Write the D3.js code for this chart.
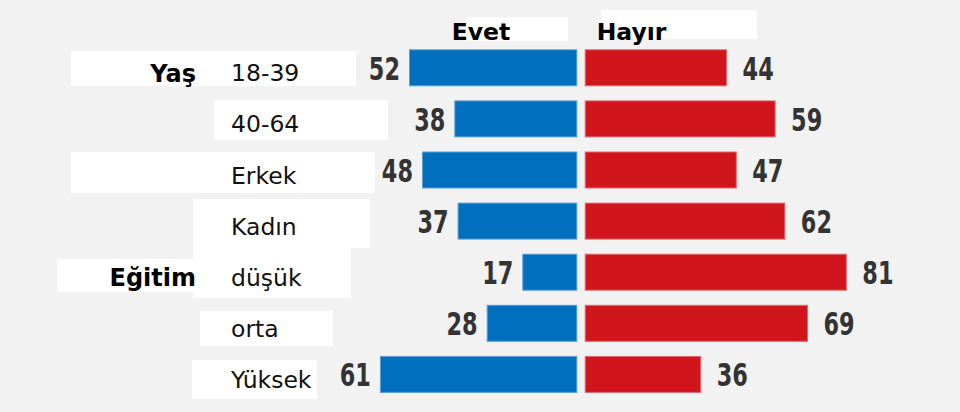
<!DOCTYPE html>
<html>
<head>
<meta charset="utf-8">
<script src="https://cdn.jsdelivr.net/npm/d3@7"></script>
<style>
  html, body { margin: 0; padding: 0; background: #f2f2f2; }
  svg { display: block; }
</style>
</head>
<body>
<svg id="chart" width="960" height="412"></svg>
<script>
// ---- data ----
const categories = ["18-39", "40-64", "Erkek", "Kadın", "düşük", "orta", "Yüksek"];
const evet  = [52, 38, 48, 37, 17, 28, 61];
const hayir = [44, 59, 47, 62, 81, 69, 36];
const groupLabels = [ {label: "Yaş", at: "18-39"}, {label: "Eğitim", at: "düşük"} ];
const seriesNames = ["Evet", "Hayır"];

// decorative white label backgrounds seen in the reference [x, y, w, h]
const maskBoxes = [
  [71, 51, 285, 35], [214, 100, 174, 40], [71, 152, 304, 41],
  [193, 199, 177, 49], [57, 259, 136, 33], [193, 248, 158, 50],
  [200, 311, 133, 35], [192, 360, 125, 39],
  [466, 17, 102, 24], [601, 10, 156, 29]
];

const svg = d3.select("#chart");
const W = 960, H = 412;

svg.append("rect").attr("width", W).attr("height", H).attr("fill", "#f2f2f2");

const y = d3.scaleBand()
  .domain(categories)
  .range([49.3, 392.9])
  .paddingInner(0.276)
  .paddingOuter(0);

const xL = d3.scaleLinear().domain([0, 100]).range([577.3, 577.3 - 323.6]);
const xR = d3.scaleLinear().domain([0, 100]).range([584.7, 584.7 + 323.6]);

// masks
svg.append("g").selectAll("rect").data(maskBoxes).join("rect")
  .attr("x", d => d[0]).attr("y", d => d[1])
  .attr("width", d => d[2]).attr("height", d => d[3])
  .attr("fill", "#ffffff");

const rows = categories.map((c, i) => ({cat: c, e: evet[i], h: hayir[i]}));

// blue bars
svg.append("g").selectAll("rect").data(rows).join("rect")
  .attr("x", d => xL(d.e) + 0.5)
  .attr("y", d => y(d.cat) + 0.5)
  .attr("width", d => xL(0) - xL(d.e) - 1)
  .attr("height", y.bandwidth() - 1)
  .attr("fill", "#006fbe")
  .attr("stroke", "#5a9fd6")
  .attr("stroke-width", 1);

// red bars
svg.append("g").selectAll("rect").data(rows).join("rect")
  .attr("x", xR(0) + 0.5)
  .attr("y", d => y(d.cat) + 0.5)
  .attr("width", d => xR(d.h) - xR(0) - 1)
  .attr("height", y.bandwidth() - 1)
  .attr("fill", "#d0151d")
  .attr("stroke", "#e06a6f")
  .attr("stroke-width", 1);

const numFont = "'DejaVu Sans', sans-serif";
const squeeze = 0.7;

// value labels (condensed via horizontal scale)
svg.append("g").selectAll("text").data(rows).join("text")
  .attr("transform", d => `translate(${xL(d.e) - 9},${y(d.cat) + y.bandwidth() / 2 + 11.8}) scale(${squeeze},1)`)
  .attr("text-anchor", "end")
  .attr("font-family", numFont)
  .attr("font-weight", "bold")
  .attr("font-size", 32)
  .attr("fill", "#333333")
  .text(d => d.e);

svg.append("g").selectAll("text").data(rows).join("text")
  .attr("transform", d => `translate(${xR(d.h) + 15.5},${y(d.cat) + y.bandwidth() / 2 + 11.8}) scale(${squeeze},1)`)
  .attr("text-anchor", "start")
  .attr("font-family", numFont)
  .attr("font-weight", "bold")
  .attr("font-size", 32)
  .attr("fill", "#333333")
  .text(d => d.h);

const labFont = "'DejaVu Sans', Verdana, sans-serif";

// category labels
svg.append("g").selectAll("text").data(categories).join("text")
  .attr("x", 231)
  .attr("y", d => y(d) + 32)
  .attr("font-family", labFont)
  .attr("font-size", 23.5)
  .attr("fill", "#111111")
  .text(d => d);

// group labels
svg.append("g").selectAll("text").data(groupLabels).join("text")
  .attr("x", 196)
  .attr("y", d => y(d.at) + 32.5)
  .attr("text-anchor", "end")
  .attr("font-family", labFont)
  .attr("font-weight", "bold")
  .attr("font-size", 24)
  .attr("fill", "#000000")
  .text(d => d.label);

// series headers
svg.append("text")
  .attr("x", 451.7).attr("y", 40)
  .attr("font-family", labFont).attr("font-weight", "bold")
  .attr("font-size", 23.5).attr("fill", "#000")
  .text(seriesNames[0]);
svg.append("text")
  .attr("x", 596.7).attr("y", 40)
  .attr("font-family", labFont).attr("font-weight", "bold")
  .attr("font-size", 23.5).attr("fill", "#000")
  .text(seriesNames[1]);
</script>
</body>
</html>
